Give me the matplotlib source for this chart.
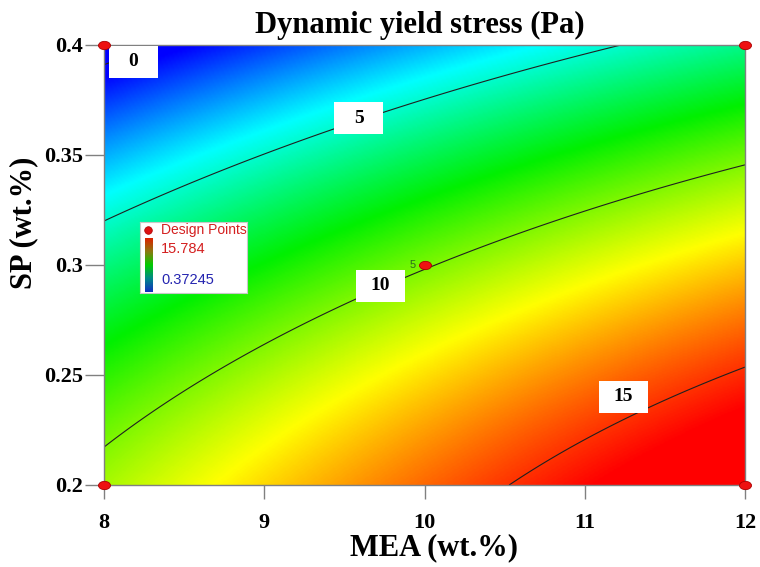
import numpy as np
import matplotlib
matplotlib.use("Agg")
import matplotlib.pyplot as plt
from matplotlib.colors import LinearSegmentedColormap
from matplotlib.patches import Rectangle
from matplotlib.path import Path
from matplotlib.transforms import Affine2D

# quadratic response surface in coded units A=(MEA-10)/2, B=(SP-0.3)/0.1
# terms: 1, A, B, AB, A^2, B^2
coef = [9.89, 3.28, -5.55, 0.10, -0.43, -1.25]

mea_range = [8, 12]
sp_range = [0.2, 0.4]
levels = [0, 5, 10, 15]

# design points (4 corners + centre point with 5 replicates)
design_mea = [8, 12, 8, 12, 10]
design_sp = [0.2, 0.2, 0.4, 0.4, 0.3]
centre_reps = 5
resp_max = 15.784
resp_min = 0.37245

xticks = [8, 9, 10, 11, 12]
yticks = [0.2, 0.25, 0.3, 0.35, 0.4]
ytick_labels = ["0.2", "0.25", "0.3", "0.35", "0.4"]

# where each contour value is written
label_pos = {0: (8.184, 0.3923), 5: (9.591, 0.3668), 10: (9.725, 0.2905), 15: (11.242, 0.2402)}


def model(mea, sp):
    a = (mea - 10) / 2
    b = (sp - 0.3) / 0.1
    return (coef[0] + coef[1] * a + coef[2] * b + coef[3] * a * b
            + coef[4] * a ** 2 + coef[5] * b ** 2)


serif = "Liberation Serif"
sans = "Liberation Sans"

fig = plt.figure(figsize=(7.6, 5.67), dpi=100)
ax = fig.add_axes([104 / 760, 1 - 485 / 567, 641 / 760, 440 / 567])

X, Y = np.meshgrid(np.linspace(*mea_range, 401), np.linspace(*sp_range, 301))
Z = model(X, Y)

# colour range follows the observed response range
cmap = LinearSegmentedColormap.from_list(
    "dx", ["#0000ff", "#00ffff", "#00f000", "#ffff00", "#ff0000"])
ax.imshow(Z, extent=[8, 12, 0.2, 0.4], origin="lower", aspect="auto",
          cmap=cmap, vmin=resp_min, vmax=resp_max, interpolation="bilinear")
ax.contour(X, Y, Z, levels=levels, colors="#202020", linewidths=0.8)

# boxed contour labels
bw, bh = 49 / 160.25, 32 / 2200
for lv, (lx, ly) in label_pos.items():
    ax.add_patch(Rectangle((lx - bw / 2, ly - bh / 2), bw, bh,
                           facecolor="white", edgecolor="none", zorder=4))
    ax.text(lx, ly, str(lv), ha="center", va="center", fontsize=14,
            family=serif, weight="bold", zorder=5)

# elliptical markers for the design points
ell = Path.unit_circle().transformed(Affine2D().scale(1.45, 1.0))
ax.scatter(design_mea, design_sp, marker=ell, s=75, color="#ee1111",
           edgecolors="#aa0000", linewidths=0.6, zorder=6, clip_on=False)
ax.annotate(str(centre_reps), (10, 0.3), xytext=(-6, 0), textcoords="offset points",
            ha="right", va="center", fontsize=8, family=sans, color="#2e6b1e", zorder=6)

ax.set_xlim(mea_range)
ax.set_ylim(sp_range)
ax.set_xticks(xticks)
ax.set_yticks(yticks)
ax.set_yticklabels(ytick_labels)
for s in ax.spines.values():
    s.set_color("#808080")
    s.set_linewidth(1.0)
ax.tick_params(axis="x", length=10, width=1, color="#808080", pad=10)
ax.tick_params(axis="y", length=14, width=1, color="#808080", pad=1)
for t in ax.get_xticklabels() + ax.get_yticklabels():
    t.set_fontfamily(serif)
    t.set_fontweight("bold")
    t.set_fontsize(16)

fig.text(420 / 760, 1 - 33 / 567, "Dynamic yield stress (Pa)", ha="center",
         va="baseline", fontsize=22, family=serif, weight="bold")
fig.text(434 / 760, 1 - 555 / 567, "MEA (wt.%)", ha="center", va="baseline",
         fontsize=22, family=serif, weight="bold")
fig.text(24 / 760, 1 - 223 / 567, "SP (wt.%)", ha="center", va="center",
         rotation=90, fontsize=22, family=serif, weight="bold")

# legend box with design points and response range
lg = fig.add_axes([140 / 760, 1 - 293 / 567, 107 / 760, 71 / 567])
lg.set_xticks([])
lg.set_yticks([])
for s in lg.spines.values():
    s.set_color("#c8c8c8")
    s.set_linewidth(0.8)
lg.scatter([8], [8], s=30, color="#dd1111", edgecolors="#aa0000", linewidths=0.5)
lg.text(21, 8, "Design Points", color="#d42020", fontsize=10, family=sans, va="center")
strip_cmap = LinearSegmentedColormap.from_list(
    "strip", ["#1030c0", "#008888", "#00cc00", "#8a7a10", "#dd2200"])
lg.imshow(np.linspace(0, 1, 100).reshape(-1, 1), extent=[5, 13, 70, 16],
          origin="lower", aspect="auto", cmap=strip_cmap)
lg.set_xlim(0, 107)
lg.set_ylim(71, 0)
lg.text(21, 27, f"{resp_max:.3f}", color="#d42020", fontsize=10.5, family=sans, va="center")
lg.text(21, 58, f"{resp_min:.5f}", color="#2525b0", fontsize=10.5, family=sans, va="center")

fig.savefig("out.png", dpi=100)
